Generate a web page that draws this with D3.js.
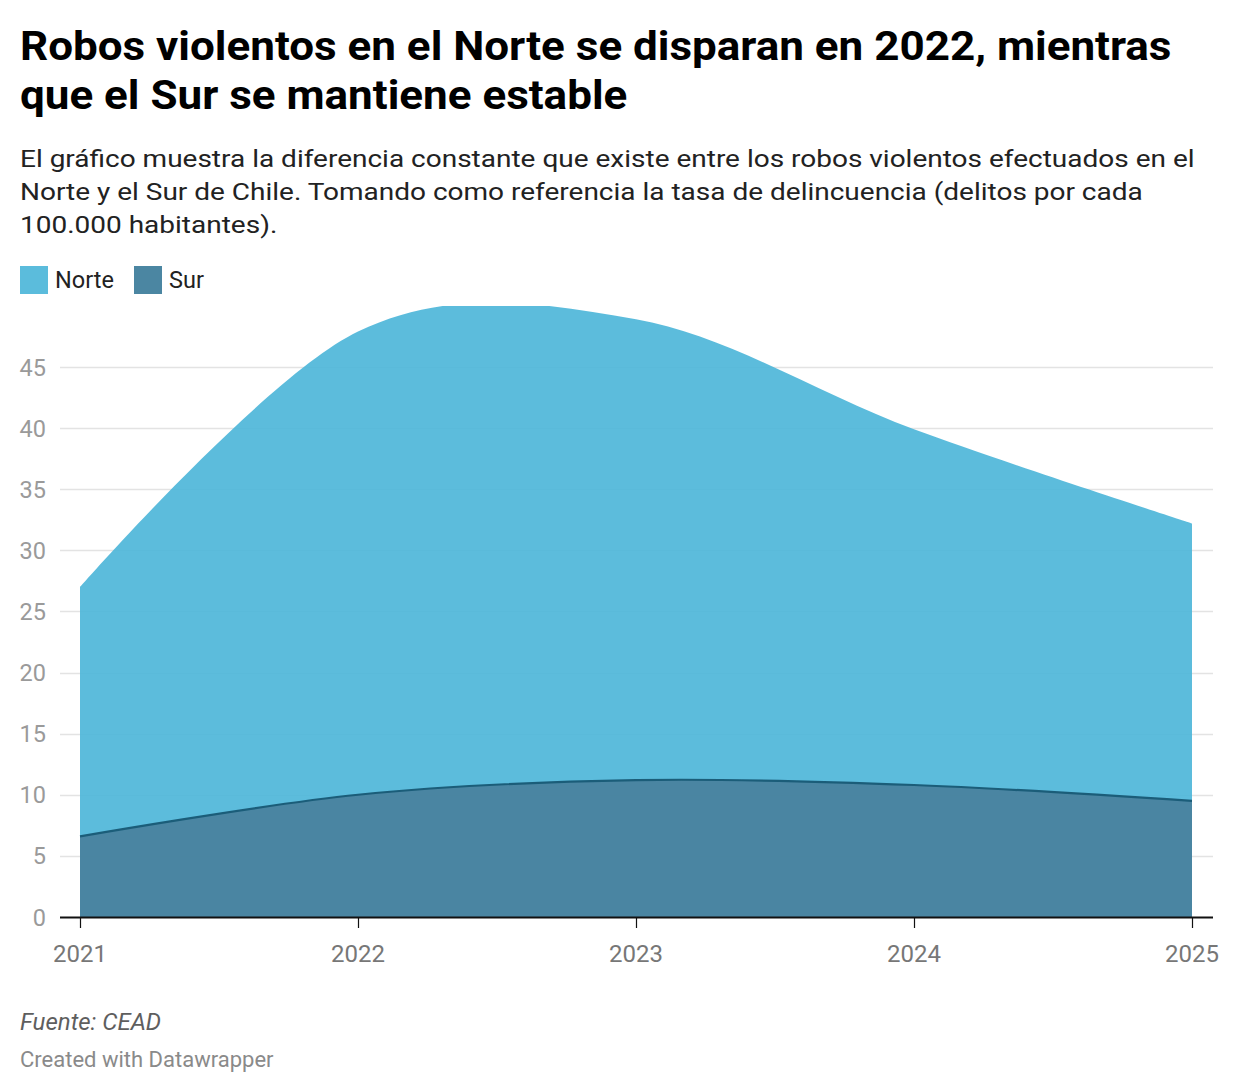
<!DOCTYPE html>
<html>
<head>
<meta charset="utf-8">
<script src="https://cdn.jsdelivr.net/npm/d3@7"></script>
<style>
  body { margin: 0; background: #fff; font-family: Roboto, "Noto Sans", sans-serif; }
  svg { display: block; }
</style>
</head>
<body>
<svg id="chart" width="1240" height="1092"></svg>
<script>
// ---- data ----
const years = [2021, 2022, 2023, 2024, 2025];
const norte = [27.0, 47.9, 48.9, 39.9, 32.2];
const sur = [6.6, 10.0, 11.2, 10.8, 9.5];
const yTicks = [0, 5, 10, 15, 20, 25, 30, 35, 40, 45];
const seriesNames = ["Norte", "Sur"];
const titleLines = ["Robos violentos en el Norte se disparan en 2022, mientras", "que el Sur se mantiene estable"];
const subtitleLines = [
  "El gráfico muestra la diferencia constante que existe entre los robos violentos efectuados en el",
  "Norte y el Sur de Chile. Tomando como referencia la tasa de delincuencia (delitos por cada",
  "100.000 habitantes)."
];
const sourceText = "Fuente: CEAD";
const creditText = "Created with Datawrapper";

// ---- styles ----
const colNorte = "#5bbcdc";
const colSur = "#4b86a2";
const colSurLine = "#1b5d79";

const svg = d3.select("#chart");

// Title (wide rendering, as in the reference)
svg.append("g").attr("transform", "translate(20,0) scale(1.1,1)")
  .append("text")
  .attr("font-family", "Roboto").attr("font-weight", 700)
  .attr("font-size", 40).attr("fill", "#000")
  .selectAll("tspan").data(titleLines).join("tspan")
  .attr("x", 0).attr("y", (d, i) => 60.5 + i * 49)
  .text(d => d);

// Subtitle
svg.append("g").attr("transform", "translate(20,0) scale(1.143,1)")
  .append("text")
  .attr("font-family", "Roboto").attr("font-size", 24.5)
  .attr("fill", "#222")
  .selectAll("tspan").data(subtitleLines).join("tspan")
  .attr("x", 0).attr("y", (d, i) => 167.5 + i * 33)
  .text(d => d);

// Legend
const legColors = [colNorte, colSur];
const legX = [20, 134];
const leg = svg.append("g");
seriesNames.forEach((n, i) => {
  leg.append("rect").attr("x", legX[i]).attr("y", 266).attr("width", 28).attr("height", 28).attr("fill", legColors[i]);
  leg.append("text").attr("x", legX[i] + 35).attr("y", 288)
    .attr("font-family", "Roboto").attr("font-size", 23.5).attr("fill", "#222").text(n);
});

// Scales
const x = d3.scaleLinear().domain([2021, 2025]).range([80, 1192]);
const y = d3.scaleLinear().domain([0, 50]).range([917, 305.9]);

// Gridlines
const grid = svg.append("g");
grid.selectAll("line").data(yTicks.filter(t => t > 0)).join("line")
  .attr("x1", 60).attr("x2", 1213)
  .attr("y1", d => Math.round(y(d)) + 0.5).attr("y2", d => Math.round(y(d)) + 0.5)
  .attr("stroke", "#e3e3e3").attr("stroke-width", 1.4);

// Y labels
svg.append("g").selectAll("text").data(yTicks).join("text")
  .attr("x", 46).attr("y", d => y(d) + 8.5)
  .attr("text-anchor", "end")
  .attr("font-family", "Roboto").attr("font-size", 23.5).attr("fill", "#9a9a9a")
  .text(d => d);

// Clip
svg.append("clipPath").attr("id", "plotclip")
  .append("rect").attr("x", 60).attr("y", 305.9).attr("width", 1160).attr("height", 917 - 305.9);

const curve = d3.curveCardinal.tension(0);
const nData = years.map((yr, i) => ({ x: yr, v: norte[i] }));
const sData = years.map((yr, i) => ({ x: yr, v: sur[i] }));

const area = d3.area().x(d => x(d.x)).y0(y(0)).y1(d => y(d.v)).curve(curve);
const line = d3.line().x(d => x(d.x)).y(d => y(d.v)).curve(curve);

const plot = svg.append("g").attr("clip-path", "url(#plotclip)");
plot.append("path").datum(nData).attr("d", area).attr("fill", "#4ab5d8").attr("fill-opacity", 0.9);
plot.append("path").datum(sData).attr("d", area).attr("fill", "#49809c").attr("fill-opacity", 0.92);
plot.append("path").datum(sData).attr("d", line).attr("fill", "none").attr("stroke", colSurLine).attr("stroke-width", 2.2);

// X axis
const xAxis = svg.append("g");
xAxis.append("line").attr("x1", 60).attr("x2", 1213).attr("y1", 917.5).attr("y2", 917.5)
  .attr("stroke", "#111").attr("stroke-width", 2);
xAxis.selectAll("line.tick").data(years).join("line").attr("class", "tick")
  .attr("x1", d => Math.round(x(d)) + 0.5).attr("x2", d => Math.round(x(d)) + 0.5)
  .attr("y1", 918).attr("y2", 928)
  .attr("stroke", "#111").attr("stroke-width", 1.2);
xAxis.selectAll("text").data(years).join("text")
  .attr("x", d => x(d)).attr("y", 962)
  .attr("text-anchor", "middle")
  .attr("font-family", "Roboto").attr("font-size", 24).attr("fill", "#777")
  .text(d => d);

// Footer
svg.append("text").attr("x", 20).attr("y", 1030)
  .attr("font-family", "Roboto").attr("font-style", "italic").attr("font-size", 24)
  .attr("fill", "#5e5e5e").text(sourceText);
svg.append("text").attr("x", 20).attr("y", 1066.5)
  .attr("font-family", "Roboto").attr("font-size", 22)
  .attr("fill", "#8a8a8a").text(creditText);
</script>
</body>
</html>
